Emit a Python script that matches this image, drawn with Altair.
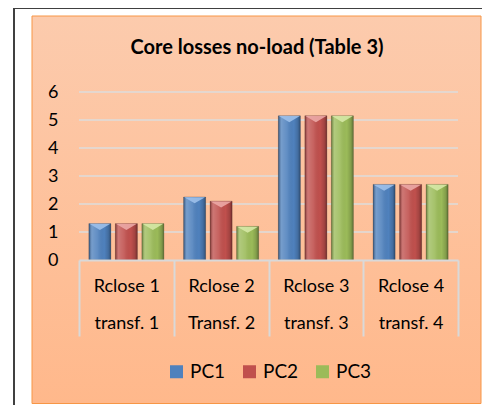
import altair as alt
import pandas as pd

# ---- data ----
line1 = ["Rclose 1", "Rclose 2", "Rclose 3", "Rclose 4"]
line2 = ["transf. 1", "Transf. 2", "transf. 3", "transf. 4"]
series = ["PC1", "PC2", "PC3"]
pc1 = [1.3, 2.25, 5.15, 2.7]
pc2 = [1.3, 2.1, 5.15, 2.7]
pc3 = [1.3, 1.2, 5.15, 2.7]
y_ticks = [0, 1, 2, 3, 4, 5, 6]
title_text = "Core losses no-load (Table 3)"

base_colors = ["#4F81BD", "#C0504D", "#9BBB59"]
light_colors = ["#9DC0EA", "#EBA8A6", "#D6E8A6"]

cats = [a + "|" + b for a, b in zip(line1, line2)]
rows = []
for s, vals in zip(series, [pc1, pc2, pc3]):
    for c, v in zip(cats, vals):
        rows.append({"cat": c, "series": s, "value": v})
df = pd.DataFrame(rows)
grid_df = pd.DataFrame({"value": y_ticks[1:]})

FONT = "Lato"

x_enc = alt.X(
    "cat:N",
    sort=cats,
    title=None,
    scale=alt.Scale(paddingInner=0, paddingOuter=0),
    axis=alt.Axis(
        labelExpr="split(datum.label, '|')",
        labelFontSize=18,
        labelFont=FONT,
        labelColor="#000000",
        labelLineHeight=37,
        labelBaseline="top",
        labelPadding=-59,
        labelAngle=0,
        tickBand="extent",
        tickSize=76,
        tickColor="#D9D9D9",
        tickWidth=2,
        domainColor="#D9D9D9",
        domainWidth=2,
        grid=False,
        zindex=1,
    ),
)
y_scale = alt.Scale(domain=[0, 6], nice=False)
y_axis = alt.Axis(
    values=y_ticks,
    labelFontSize=18,
    labelFont=FONT,
    labelColor="#000000",
    labelPadding=21,
    ticks=False,
    domain=False,
    grid=False,
    zindex=1,
    title=None,
)
y_enc = alt.Y("value:Q", scale=y_scale, axis=y_axis, title=None)
xo_enc = alt.XOffset("series:N", sort=series,
                     scale=alt.Scale(paddingInner=0.17, paddingOuter=0.3725))

deco = alt.Data(values=[{"k": 1}])

left_line = alt.Chart(deco).mark_rule(color="#404040", strokeWidth=2).encode(
    x=alt.value(-65), y=alt.value(-84), y2=alt.value(330)
)
top_line = alt.Chart(deco).mark_rule(color="#404040", strokeWidth=2).encode(
    x=alt.value(-66), x2=alt.value(420), y=alt.value(-84)
)
panel = alt.Chart(deco).mark_rect(
    fill=alt.LinearGradient(
        gradient="linear",
        stops=[
            alt.GradientStop(color="#FCCBAD", offset=0),
            alt.GradientStop(color="#FFB88B", offset=1),
        ],
        x1=0, x2=0, y1=0, y2=1,
    ),
    stroke="#F79646",
    strokeWidth=1,
).encode(x=alt.value(-47), x2=alt.value(402), y=alt.value(-76), y2=alt.value(311.5))

grid = alt.Chart(grid_df).mark_rule(color="#DCDCDC", strokeWidth=1.5).encode(y=y_enc)

bars = alt.Chart(df).mark_bar().encode(
    x=x_enc,
    xOffset=xo_enc,
    y=y_enc,
    color=alt.Color(
        "series:N",
        sort=series,
        scale=alt.Scale(domain=series, range=base_colors),
        legend=alt.Legend(
            title=None,
            orient="none",
            legendX=88,
            legendY=270,
            direction="horizontal",
            symbolType="square",
            symbolSize=169,
            symbolStrokeWidth=0,
            labelFontSize=19,
            labelFont=FONT,
            labelColor="#000000",
            labelOffset=4,
            columnPadding=14,
            padding=0,
            zindex=1,
        ),
    ),
)

overlay = alt.Chart(df).mark_bar(
    color=alt.LinearGradient(
        gradient="linear",
        stops=[
            alt.GradientStop(color="rgba(0,0,0,0.35)", offset=0),
            alt.GradientStop(color="rgba(255,255,255,0.22)", offset=0.14),
            alt.GradientStop(color="rgba(255,255,255,0.10)", offset=0.4),
            alt.GradientStop(color="rgba(0,0,0,0.0)", offset=0.7),
            alt.GradientStop(color="rgba(0,0,0,0.15)", offset=0.88),
            alt.GradientStop(color="rgba(0,0,0,0.38)", offset=1),
        ],
        x1=0, x2=1, y1=0, y2=0,
    ),
    stroke="rgba(0,0,0,0.25)",
    strokeWidth=0.8,
).encode(x=x_enc, xOffset=xo_enc, y=y_enc)

chevrons = alt.Chart(df).mark_point(
    shape="M-1,-0.28L1,-0.28L0,0.3Z",
    size=440,
    filled=True,
    strokeWidth=0,
    opacity=0.9,
    yOffset=3.2,
).encode(
    x=x_enc,
    xOffset=xo_enc,
    y=y_enc,
    fill=alt.Fill("series:N", sort=series,
                  scale=alt.Scale(domain=series, range=light_colors), legend=None),
)

title = alt.Chart(deco).mark_text(
    text=title_text, font=FONT, fontSize=20, fontWeight="bold",
    color="#000000", align="center", baseline="alphabetic",
).encode(x=alt.value(178), y=alt.value(-38))

chart = alt.layer(
    left_line, top_line, panel, grid, bars, overlay, chevrons, title
).properties(
    width=379,
    height=168,
    autosize=alt.AutoSizeParams(type="none"),
    padding={"left": 71, "top": 84, "right": 24, "bottom": 145},
    background="#FFFFFF",
).configure_view(stroke=None).configure(font=FONT)

chart.save("out.html", embed_options={"renderer": "svg", "actions": False})
